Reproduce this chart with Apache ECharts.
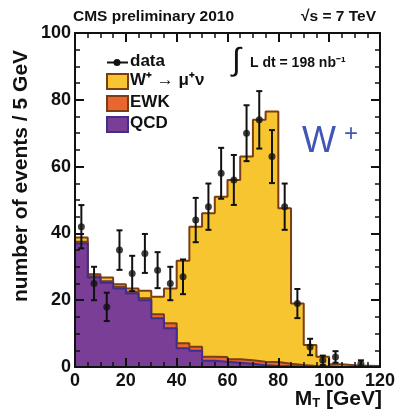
<!DOCTYPE html>
<html>
<head>
<meta charset="utf-8">
<script src="https://cdn.jsdelivr.net/npm/echarts@6/dist/echarts.min.js"></script>
<style>
  html, body { margin: 0; padding: 0; background: #ffffff; }
  #chart { width: 398px; height: 417px; }
</style>
</head>
<body>
<div id="chart"></div>
<script>
// Transverse-mass spectrum, 5 GeV bins from 0 to 120 GeV
const binLow = [0, 5, 10, 15, 20, 25, 30, 35, 40, 45, 50, 55, 60, 65, 70, 75, 80, 85, 90, 95, 100, 105, 110, 115];
const binWidth = 5;

// Stacked expectations (events per bin)
const qcd   = [37.0, 26.8, 25.2, 23.5, 22.0, 20.0, 14.6, 11.6, 5.6, 4.9, 1.9, 1.6, 1.3, 1.0, 0.5, 0.3, 0.2, 0.1, 0, 0, 0, 0, 0, 0];
const ewk   = [0.5, 0.4, 0.5, 0.5, 0.5, 0.6, 1.2, 1.5, 1.5, 1.2, 1.2, 1.4, 1.0, 1.0, 1.1, 1.2, 0.8, 0.5, 0.3, 0.2, 0.1, 0.1, 0.1, 0.1];
const wmunu = [1.3, 0.6, 1.1, 0.8, 1.0, 2.2, 5.2, 10.4, 24.7, 35.9, 42.9, 48.0, 53.7, 61.0, 72.4, 75.0, 46.5, 18.4, 6.3, 2.9, 0.7, 0.4, 0.3, 0.2];

// Observed counts (null = empty bin)
const dataCounts = [42, 25, 18, 35, 28, 34, 29, 25, 27, 44, 48, 58, 56, 70, 74, 63, 48, 19, 6, 2, 3, null, 1, null];

const xTickStep = 20;
const yTickStep = 20;

const FONT = '"Liberation Sans", Arial, Helvetica, sans-serif';
const YELLOW = '#f7c52f';
const ORANGE = '#ea6630';
const PURPLE = '#7a3e97';
const BROWN  = '#7a3d14';
const PURPLE_LINE = '#3f2e8a';

// cumulative stack tops
const topQcd = qcd.map(v => v);
const topEwk = qcd.map((v, i) => v + ewk[i]);
const topAll = qcd.map((v, i) => v + ewk[i] + wmunu[i]);

// histogram outline points (drawn with step:'start')
function stepPoints(values) {
  const pts = [[binLow[0], 0]];
  values.forEach((v, i) => pts.push([binLow[i] + binWidth, v]));
  pts.push([binLow[binLow.length - 1] + binWidth, 0]);
  return pts;
}

const points = [];
dataCounts.forEach((n, i) => {
  if (n !== null) points.push([binLow[i] + binWidth / 2, n, Math.sqrt(n)]);
});

function histSeries(name, values, fill, line, z) {
  return {
    name: name,
    type: 'line',
    step: 'start',
    data: stepPoints(values),
    symbol: 'none',
    z: z,
    lineStyle: { color: line, width: 2 },
    areaStyle: { color: fill, opacity: 1 },
    silent: true,
    animation: false
  };
}

const axisCommon = {
  type: 'value',
  axisLine: { show: true, onZero: false, lineStyle: { color: '#111', width: 2 } },
  axisTick: { show: true, inside: true, length: 9, lineStyle: { color: '#111', width: 2 } },
  minorTick: { show: true, splitNumber: 4, length: 5, lineStyle: { color: '#111', width: 1.5 } },
  splitLine: { show: false },
  minorSplitLine: { show: false },
  z: 10
};

const chart = echarts.init(document.getElementById('chart'), null, { renderer: 'canvas' });

chart.setOption({
  animation: false,
  backgroundColor: '#ffffff',
  grid: { left: 75, right: 16, top: 33, bottom: 50 },
  xAxis: [
    Object.assign({}, axisCommon, {
      position: 'bottom', min: 0, max: 120, interval: xTickStep,
      axisLabel: { color: '#111', fontFamily: FONT, fontWeight: 'bold', fontSize: 18, margin: 5 }
    }),
    Object.assign({}, axisCommon, {
      position: 'top', min: 0, max: 120, interval: xTickStep,
      axisLabel: { show: false }
    })
  ],
  yAxis: [
    Object.assign({}, axisCommon, {
      position: 'left', min: 0, max: 100, interval: yTickStep,
      axisLabel: { color: '#111', fontFamily: FONT, fontWeight: 'bold', fontSize: 18, margin: 4 }
    }),
    Object.assign({}, axisCommon, {
      position: 'right', min: 0, max: 100, interval: yTickStep,
      axisLabel: { show: false }
    })
  ],
  series: [
    histSeries('W+ → μ+ν', topAll, YELLOW, BROWN, 1),
    histSeries('EWK', topEwk, ORANGE, BROWN, 2),
    histSeries('QCD', topQcd, PURPLE, PURPLE_LINE, 3),
    {
      name: 'data errors',
      type: 'custom',
      z: 5,
      data: points,
      encode: { x: 0, y: 1 },
      renderItem: function (params, api) {
        const x = api.value(0), y = api.value(1), e = api.value(2);
        const hi = api.coord([x, y + e]);
        const lo = api.coord([x, Math.max(0, y - e)]);
        const cap = 3;
        const st = { stroke: '#111', lineWidth: 2 };
        return {
          type: 'group',
          children: [
            { type: 'line', shape: { x1: hi[0], y1: hi[1], x2: lo[0], y2: lo[1] }, style: st },
            { type: 'line', shape: { x1: hi[0] - cap, y1: hi[1], x2: hi[0] + cap, y2: hi[1] }, style: st },
            { type: 'line', shape: { x1: lo[0] - cap, y1: lo[1], x2: lo[0] + cap, y2: lo[1] }, style: st }
          ]
        };
      },
      silent: true,
      animation: false
    },
    {
      name: 'data',
      type: 'scatter',
      z: 6,
      data: points.map(p => [p[0], p[1]]),
      symbol: 'circle',
      symbolSize: 7,
      itemStyle: { color: '#111' },
      silent: true,
      animation: false
    }
  ],
  graphic: [
    // header
    { type: 'text', x: 73, y: 9, style: { text: 'CMS preliminary 2010', font: 'bold 15.5px ' + FONT, fill: '#111' } },
    { type: 'text', x: 376, y: 9, style: { text: '√s = 7 TeV', font: 'bold 15.5px ' + FONT, fill: '#111', textAlign: 'right' } },
    // luminosity
    { type: 'text', x: 232, y: 45, style: { text: '∫', font: '32px ' + FONT, fill: '#111' } },
    { type: 'text', x: 250, y: 56, style: { text: 'L dt = 198 nb⁻¹', font: 'bold 14px ' + FONT, fill: '#111' } },
    // channel label
    { type: 'text', x: 302, y: 124, style: { text: 'W', font: '36px ' + FONT, fill: '#4257b5' } },
    { type: 'text', x: 344, y: 122, style: { text: '+', font: '24px ' + FONT, fill: '#4257b5' } },
    // legend
    { type: 'line', shape: { x1: 107, y1: 62.5, x2: 128, y2: 62.5 }, style: { stroke: '#111', lineWidth: 2 } },
    { type: 'circle', shape: { cx: 117, cy: 62.5, r: 3.5 }, style: { fill: '#111' } },
    { type: 'text', x: 130, y: 53, style: { text: 'data', font: 'bold 17px ' + FONT, fill: '#111' } },
    { type: 'rect', shape: { x: 107, y: 74, width: 21, height: 15 }, style: { fill: YELLOW, stroke: BROWN, lineWidth: 2 } },
    { type: 'text', x: 130, y: 72, style: { text: 'W⁺ → μ⁺ν', font: 'bold 17px ' + FONT, fill: '#111' } },
    { type: 'rect', shape: { x: 107, y: 96, width: 21, height: 15 }, style: { fill: ORANGE, stroke: BROWN, lineWidth: 2 } },
    { type: 'text', x: 130, y: 94, style: { text: 'EWK', font: 'bold 17px ' + FONT, fill: '#111' } },
    { type: 'rect', shape: { x: 107, y: 117, width: 21, height: 15 }, style: { fill: PURPLE, stroke: PURPLE_LINE, lineWidth: 2 } },
    { type: 'text', x: 130, y: 115, style: { text: 'QCD', font: 'bold 17px ' + FONT, fill: '#111' } },
    // axis titles
    { type: 'text', x: 11, y: 302, rotation: Math.PI / 2, style: { text: 'number of events / 5 GeV', font: 'bold 21px ' + FONT, fill: '#111', textAlign: 'left', textVerticalAlign: 'top' } },
    { type: 'text', right: 16, top: 389, style: {
        text: '{m|M}{s|T}{m| [GeV]}',
        rich: {
          m: { font: 'bold 21px ' + FONT, fill: '#111', verticalAlign: 'bottom' },
          s: { font: 'bold 13px ' + FONT, fill: '#111', padding: [8, 0, 0, 0] }
        }
      } }
  ]
});
</script>
</body>
</html>
